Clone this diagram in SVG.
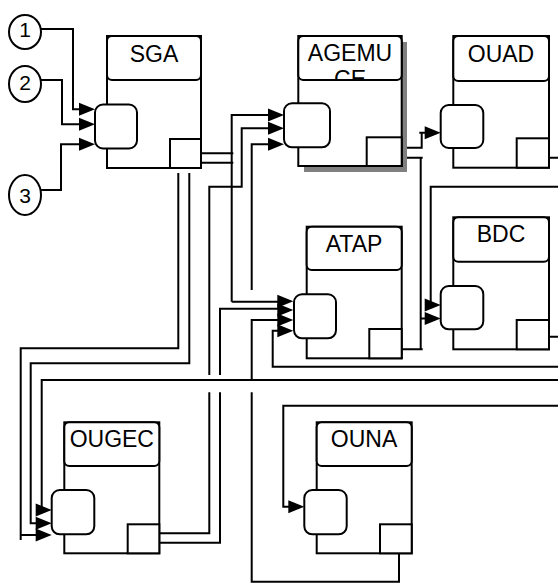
<svg xmlns="http://www.w3.org/2000/svg" width="558" height="583" viewBox="0 0 558 583">
<style>
.blk{fill:#fff;stroke:#000;stroke-width:2}
.ib{fill:#fff;stroke:#000;stroke-width:2}
.w{fill:none;stroke:#000;stroke-width:2}
.lbl{font-family:"Liberation Sans",Arial,sans-serif;font-size:23px;text-anchor:middle;fill:#000}
.num{font-family:"Liberation Sans",Arial,sans-serif;font-size:21px;text-anchor:middle;fill:#000}
.shd{fill:#808080}
</style>
<defs>
<path id="ah" d="M0,0 L-16,-6.5 L-16,6.5 Z" fill="#000"/>
<clipPath id="agclip"><rect x="298.3" y="36" width="103.4" height="44"/></clipPath>
</defs>
<rect width="558" height="583" fill="#fff"/>

<g id="connectors">
<path class="w" d="M41,29 H73 V109.3 H80"/>
<path class="w" d="M41,80 H62 V124.3 H80"/>
<path class="w" d="M41,190 H61 V144.3 H80"/>
<path class="w" d="M201,153.3 H233.3 M201,162.7 H233.3 M231.7,301.7 V115 H270 M231.7,301.7 H279"/>
<path class="w" d="M159.3,533.3 H209.3 V392.3 M209.3,375 V186.7 H241.7 V128.3 H270"/>
<path class="w" d="M159.3,542.7 H220 V392.3 M220,375 V308.8 H279"/>
<path class="w" d="M270,144.3 H251.7 V290 M279,320 H251.7 V380 M251.7,392.3 V581.7 H399 V553.3"/>
<path class="w" d="M558,366.7 H272.7 V330.7 H279"/>
<path class="w" d="M178.3,173 V348.3 H20.7 V540 M20.7,535 H37"/>
<path class="w" d="M189.3,173 V363.3 H30.7 V523.3 H37"/>
<path class="w" d="M558,380 H41.7 V510"/>
<path class="w" d="M558,405.7 H283.3 V506.7 H290"/>
<path class="w" d="M401.7,147.7 H421.7 V132.7 H426 M419.3,132.7 H422"/>
<path class="w" d="M401.7,157.7 H422.7 M420.7,157.7 V349.3 M401.7,349.3 H422.7 M420.7,318.5 H426"/>
<path class="w" d="M558,186.7 H430.7 V305"/>
<path class="w" d="M549,157.7 H558 M549,336.7 H558"/>
<use href="#ah" x="95" y="109.3"/>
<use href="#ah" x="95" y="124.3"/>
<use href="#ah" x="95" y="144.3"/>
<use href="#ah" x="284" y="115"/>
<use href="#ah" x="284" y="128.3"/>
<use href="#ah" x="284" y="144.3"/>
<use href="#ah" x="293.3" y="301.2"/>
<use href="#ah" x="293.3" y="310"/>
<use href="#ah" x="293.3" y="320"/>
<use href="#ah" x="293.3" y="330.7"/>
<use href="#ah" x="440.7" y="132.7"/>
<use href="#ah" x="440.7" y="305"/>
<use href="#ah" x="440.7" y="318.5"/>
<use href="#ah" x="51.7" y="510"/>
<use href="#ah" x="51.7" y="523.3"/>
<use href="#ah" x="51.7" y="535"/>
<use href="#ah" x="304.3" y="506.7"/>
</g>

<g id="in1"><ellipse class="blk" cx="25" cy="32" rx="16" ry="17"/><text class="num" x="25" y="37">1</text></g>
<g id="in2"><ellipse class="blk" cx="25" cy="84" rx="16" ry="18"/><text class="num" x="25" y="90">2</text></g>
<g id="in3"><ellipse class="blk" cx="25" cy="195" rx="16" ry="20"/><text class="num" x="25" y="203">3</text></g>

<g id="SGA">
<rect class="blk" x="107" y="36" width="94" height="132"/>
<rect class="blk" x="107" y="36" width="94" height="44" rx="5"/>
<text class="lbl" x="154" y="62.3">SGA</text>
<rect class="ib" x="95" y="104.5" width="42" height="44" rx="8"/>
<rect class="blk" x="170" y="139" width="31" height="29"/>
</g>

<g id="AGEMUCE">
<rect class="shd" x="304" y="42" width="103" height="130"/>
<rect class="blk" x="298.3" y="36" width="103.4" height="130"/>
<rect class="blk" x="298.3" y="36" width="103.4" height="44" rx="5"/>
<g clip-path="url(#agclip)"><text class="lbl" x="350" y="60.7">AGEMU</text><text class="lbl" x="350" y="87.4">CE</text></g>
<rect class="ib" x="284" y="103.3" width="46" height="44" rx="8"/>
<rect class="blk" x="366.7" y="137.3" width="35" height="28.7"/>
</g>

<g id="OUAD">
<rect class="blk" x="453.3" y="36" width="95.7" height="131.7"/>
<rect class="blk" x="453.3" y="36" width="95.7" height="45" rx="5"/>
<text class="lbl" x="501" y="61.7">OUAD</text>
<rect class="ib" x="440.7" y="105" width="42.6" height="43" rx="8"/>
<rect class="blk" x="516.7" y="138.3" width="32.3" height="29.4"/>
</g>

<g id="ATAP">
<rect class="blk" x="306.7" y="226.7" width="95" height="131.6"/>
<rect class="blk" x="306.7" y="226.7" width="95" height="43.3" rx="5"/>
<text class="lbl" x="354" y="251.7">ATAP</text>
<rect class="ib" x="294" y="294.3" width="42" height="44" rx="8"/>
<rect class="blk" x="369.3" y="329" width="32.4" height="29.3"/>
</g>

<g id="BDC">
<rect class="blk" x="453.3" y="217.3" width="95.7" height="132"/>
<rect class="blk" x="453.3" y="217.3" width="95.7" height="44.4" rx="5"/>
<text class="lbl" x="501" y="242.3">BDC</text>
<rect class="ib" x="440.7" y="286" width="42.6" height="43.3" rx="8"/>
<rect class="blk" x="516.7" y="320" width="32.3" height="29.3"/>
</g>

<g id="OUGEC">
<rect class="blk" x="64.3" y="422.3" width="95" height="131"/>
<rect class="blk" x="64.3" y="422.3" width="95" height="43.7" rx="5"/>
<text class="lbl" x="111.8" y="446.7">OUGEC</text>
<rect class="ib" x="51.7" y="490" width="42.6" height="44.3" rx="8"/>
<rect class="blk" x="127.7" y="524.3" width="31.6" height="29"/>
</g>

<g id="OUNA">
<rect class="blk" x="316.7" y="422.3" width="95" height="131"/>
<rect class="blk" x="316.7" y="422.3" width="95" height="43.7" rx="5"/>
<text class="lbl" x="364" y="446.7">OUNA</text>
<rect class="ib" x="304.3" y="490" width="42.4" height="44.3" rx="8"/>
<rect class="blk" x="380" y="524.3" width="31.7" height="29"/>
</g>
</svg>
